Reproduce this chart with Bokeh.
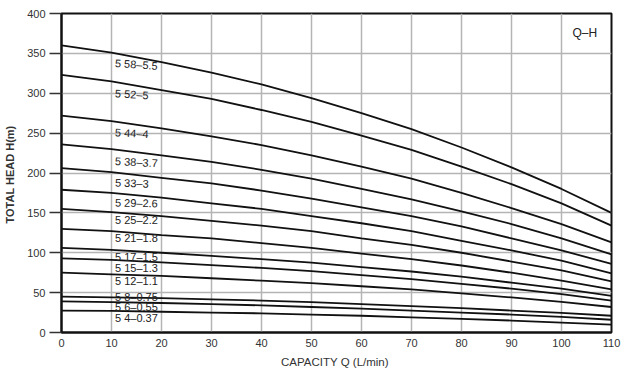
from bokeh.plotting import figure
from bokeh.models import Range1d, FixedTicker, ColumnDataSource, Label
from bokeh.embed import file_html
from bokeh.resources import INLINE
from bokeh.core.properties import value

# ---- data ----
capacity = [0, 10, 20, 30, 40, 50, 60, 70, 80, 90, 100, 110]

models = ["5 58–5.5", "5 52–5", "5 44–4", "5 38–3.7", "5 33–3", "5 29–2.6",
          "5 25–2.2", "5 21–1.8", "5 17–1.5", "5 15–1.3", "5 12–1.1",
          "5 8–0.75", "5 6–0.55", "5 4–0.37"]

h_5_58 = [360, 351, 339, 326, 311, 294, 275, 255, 232, 207, 180, 150]
h_5_52 = [323, 315, 304, 293, 279, 264, 247, 229, 208, 186, 162, 134]
h_5_44 = [272, 265, 256, 246, 235, 222, 208, 193, 175, 156, 136, 113]
h_5_38 = [236, 230, 222, 214, 204, 193, 180, 167, 152, 136, 118, 98]
h_5_33 = [206, 201, 194, 187, 178, 168, 157, 146, 133, 118, 103, 86]
h_5_29 = [179, 175, 169, 162, 155, 146, 137, 127, 115, 103, 90, 74]
h_5_25 = [155, 151, 146, 140, 134, 127, 118, 110, 100, 89, 78, 64]
h_5_21 = [130, 127, 122, 118, 112, 106, 99, 92, 84, 75, 65, 54]
h_5_17 = [106, 103.5, 100, 96, 92, 87.5, 82, 76.5, 70, 62.5, 55, 46]
h_5_15 = [93, 91, 88, 84.5, 81, 77, 72, 67, 61, 55, 48, 40]
h_5_12 = [75, 73, 71, 68, 65, 62, 58, 54, 49, 44, 38.5, 32]
h_5_8 = [45, 44, 43, 41.5, 40, 38, 35.5, 33, 30.5, 27.5, 24.5, 21]
h_5_6 = [39, 38, 37, 35.5, 34, 32, 30, 27.5, 25, 22.5, 19.5, 16]
h_5_4 = [27.5, 27, 26, 25, 24, 22.5, 21, 19, 17, 15, 12.5, 10]

series = [h_5_58, h_5_52, h_5_44, h_5_38, h_5_33, h_5_29, h_5_25, h_5_21,
          h_5_17, h_5_15, h_5_12, h_5_8, h_5_6, h_5_4]

label_x = [10.7] * 14
label_y = [338, 300, 251, 215, 188, 163, 141, 118, 95, 81, 65, 45, 32, 18]
label_angle = [-0.07, -0.06, -0.05, -0.05, -0.03, -0.02, 0, 0, 0, 0, 0, 0, 0, 0]

x_ticks = [0, 10, 20, 30, 40, 50, 60, 70, 80, 90, 100, 110]
y_ticks = [0, 50, 100, 150, 200, 250, 300, 350, 400]

FONT = "Liberation Sans"

p = figure(width=621, height=370, output_backend="svg", toolbar_location=None,
           x_range=Range1d(0, 110), y_range=Range1d(0, 400),
           min_border_left=61, min_border_right=10, min_border_top=13,
           min_border_bottom=37)
p.background_fill_color = "white"
p.border_fill_color = "white"
p.outline_line_color = "#111111"
p.outline_line_width = 2

for ax in (p.xaxis[0], p.yaxis[0]):
    ax.axis_line_color = "#111111"
    ax.axis_line_width = 2
    ax.minor_tick_line_color = None
    ax.major_label_text_font = FONT
    ax.major_label_text_font_size = "11px"
    ax.major_label_text_color = "#333333"
    ax.axis_label_text_font = FONT
    ax.axis_label_text_color = "#333333"

p.xaxis.ticker = FixedTicker(ticks=x_ticks)
p.yaxis.ticker = FixedTicker(ticks=y_ticks)
p.xaxis.major_tick_line_color = None
p.xaxis.major_tick_out = 0
p.xaxis.major_label_standoff = 6
p.xaxis.axis_label = "CAPACITY  Q (L/min)"
p.xaxis.axis_label_standoff = 6
p.xaxis.axis_label_text_font_size = "11.5px"
p.xaxis.axis_label_text_font_style = "normal"
p.yaxis.major_tick_out = 12
p.yaxis.major_tick_in = 0
p.yaxis.major_tick_line_color = "#333333"
p.yaxis.major_tick_line_width = 1.5
p.yaxis.major_label_standoff = 4
p.yaxis.axis_label = "TOTAL HEAD  H(m)"
p.yaxis.axis_label_standoff = 8
p.yaxis.axis_label_text_font_size = "11px"
p.yaxis.axis_label_text_font_style = "bold"

p.xgrid.ticker = FixedTicker(ticks=x_ticks)
p.ygrid.ticker = FixedTicker(ticks=y_ticks)
p.xgrid.grid_line_color = "#b4b4b4"
p.ygrid.grid_line_color = "#b4b4b4"
p.xgrid.grid_line_width = 1.5
p.ygrid.grid_line_width = 1.5

for h in series:
    p.line(capacity, h, line_color="#111111", line_width=1.8)

src = ColumnDataSource(dict(x=label_x, y=label_y, t=models, a=label_angle))
p.text(x="x", y="y", text="t", angle="a", source=src,
       text_font=value(FONT), text_font_size="11px", text_color="#222222",
       text_baseline="middle", text_align="left")

p.add_layout(Label(x=102.2, y=375, text="Q–H", text_font=FONT,
                   text_font_size="12px", text_color="#222222",
                   text_baseline="middle"))

open("out.html", "w").write(file_html(p, INLINE))
